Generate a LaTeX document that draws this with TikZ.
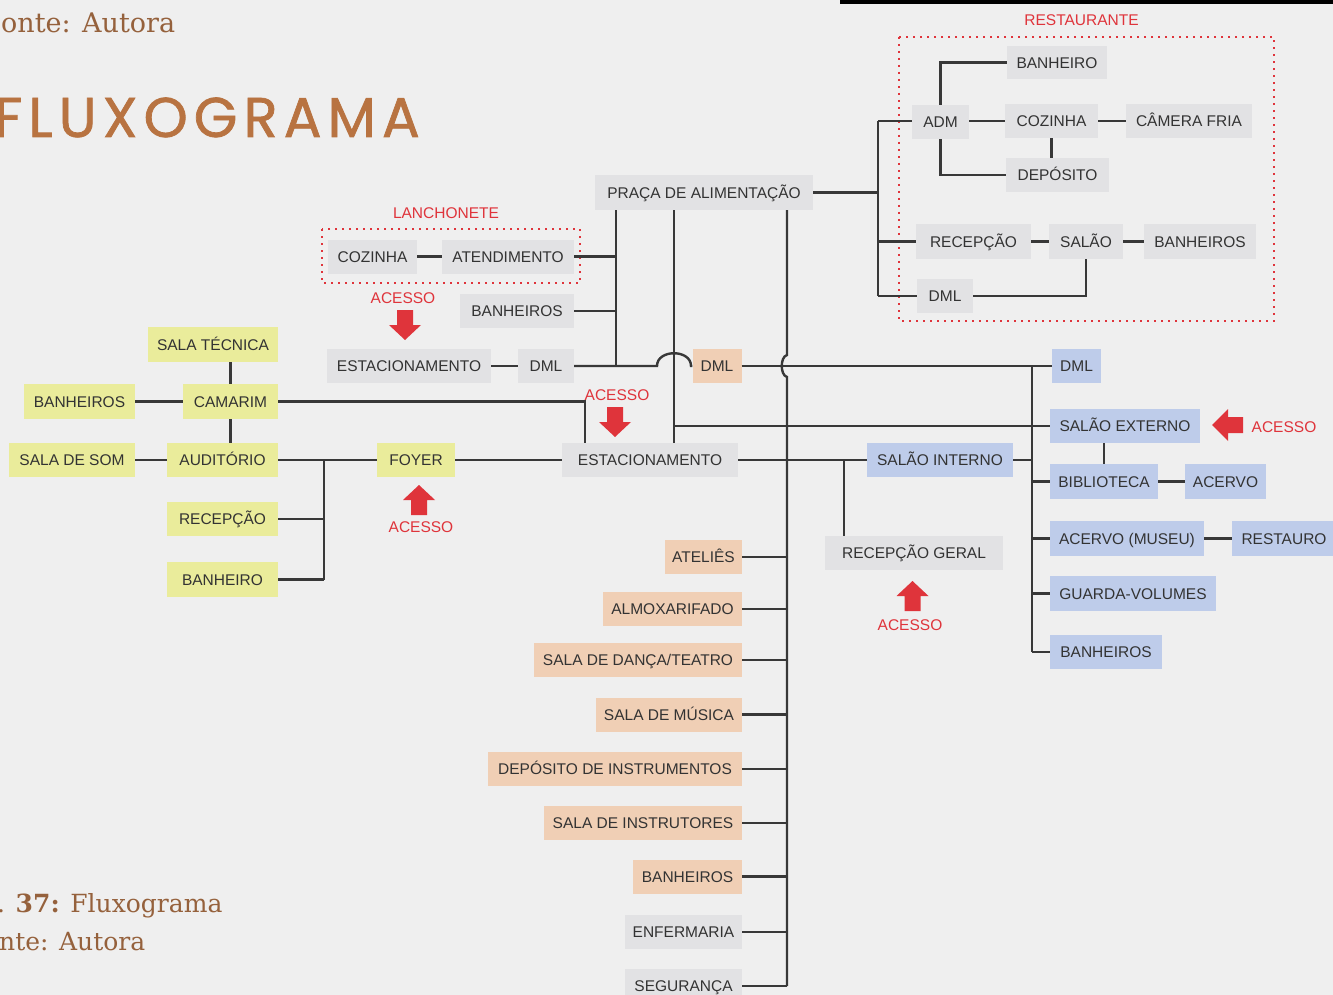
\documentclass[tikz,border=0pt]{standalone}
\usepackage{fontspec}
\setmainfont{Liberation Sans}
\newfontfamily\capfont{DejaVu Serif}
\newfontfamily\titlefont[LetterSpace=11, FakeBold=1.3]{Poppins}
\definecolor{bg}{HTML}{EFEFEF}
\definecolor{gfill}{HTML}{E2E2E4}
\definecolor{yfill}{HTML}{EAEC9B}
\definecolor{pfill}{HTML}{F0CFB5}
\definecolor{bfill}{HTML}{BECCEA}
\definecolor{txt}{HTML}{333333}
\definecolor{linec}{HTML}{383838}
\definecolor{accred}{HTML}{DF343B}
\definecolor{brown}{HTML}{B87341}
\definecolor{capbrown}{HTML}{95613C}
\tikzset{
  box/.style={rectangle, inner sep=0pt, minimum height=34, text=txt,
    font=\fontsize{15.5}{18}\selectfont, text height=11.2pt, text depth=0pt},
  gbox/.style={box, fill=gfill},
  ybox/.style={box, fill=yfill},
  pbox/.style={box, fill=pfill},
  bbox/.style={box, fill=bfill},
  conn/.style={draw=linec, line width=2.4pt},
  acclab/.style={inner sep=0pt, text=accred, font=\fontsize{15.5}{18}\selectfont, text height=11.2pt, text depth=0pt},
  zone/.style={draw=accred, line width=1.6pt, dash pattern=on 1.8pt off 5.2pt},
  accdown/.pic={\fill[accred] (-8,0) -- (8,0) -- (8,15) -- (16,15) -- (0,30) -- (-16,15) -- (-8,15) -- cycle;},
  accup/.pic={\fill[accred] (0,0) -- (16,15) -- (8,15) -- (8,30) -- (-8,30) -- (-8,15) -- (-16,15) -- cycle;},
  accleft/.pic={\fill[accred] (0,0) -- (16,-16) -- (16,-8) -- (31,-8) -- (31,8) -- (16,8) -- (16,16) -- cycle;}
}
\begin{document}
\begin{tikzpicture}[x=1pt,y=-1pt]
\fill[bg] (0,0) rectangle (1333,995);
\useasboundingbox (0,0) rectangle (1333,995);
\fill[black] (840,0) rectangle (1333,4);

% captions and title
\node[anchor=base west, inner sep=0pt, text=capbrown, font=\capfont\fontsize{27}{30}\selectfont] (capa) at (1,33) {onte: Autora};
\node[anchor=base east, inner sep=0pt, text=brown, font=\titlefont\fontsize{56}{60}\selectfont] (title) at (420,137) {FLUXOGRAMA};
\node[anchor=base west, inner sep=0pt, text=capbrown, font=\capfont\fontsize{25}{28}\selectfont] (capb) at (-3,912) {. \textbf{37:} Fluxograma};
\node[anchor=base west, inner sep=0pt, text=capbrown, font=\capfont\fontsize{25}{28}\selectfont] (capc) at (-1,950) {nte: Autora};

% zones
\draw[zone] (899,37) rectangle (1274,321);
\draw[zone] (322,229) rectangle (580,283);
\node[acclab] (labrest) at (1081.5,20) {RESTAURANTE};
\node[acclab] (lablanch) at (446,213) {LANCHONETE};

% grey boxes
\node[gbox, minimum width=218, minimum height=35] (praca) at (704,192.5) {PRAÇA DE ALIMENTAÇÃO};
\node[gbox, minimum width=89] (lcoz) at (372.5,256.5) {COZINHA};
\node[gbox, minimum width=132] (latend) at (508,256.5) {ATENDIMENTO};
\node[gbox, minimum width=114] (lban) at (517,311) {BANHEIROS};
\node[gbox, minimum width=164] (est1) at (409,366) {ESTACIONAMENTO};
\node[gbox, minimum width=56] (dml1) at (546,366) {DML};
\node[gbox, minimum width=176] (est2) at (650,460) {ESTACIONAMENTO};
\node[gbox, minimum width=178] (recg) at (914,553) {RECEPÇÃO GERAL};
\node[gbox, minimum width=117] (enf) at (683.5,932) {ENFERMARIA};
\node[gbox, minimum width=117] (seg) at (683.5,986) {SEGURANÇA};
% restaurant
\node[gbox, minimum width=100, minimum height=33] (rban) at (1057,62.5) {BANHEIRO};
\node[gbox, minimum width=57] (adm) at (940.5,122) {ADM};
\node[gbox, minimum width=93] (rcoz) at (1051.5,121) {COZINHA};
\node[gbox, minimum width=126] (camara) at (1189,121) {CÂMERA FRIA};
\node[gbox, minimum width=103] (rdep) at (1057.5,175) {DEPÓSITO};
\node[gbox, minimum width=115] (rrec) at (973.5,241.5) {RECEPÇÃO};
\node[gbox, minimum width=74] (rsal) at (1086,241.5) {SALÃO};
\node[gbox, minimum width=112] (rbans) at (1200,241.5) {BANHEIROS};
\node[gbox, minimum width=56] (rdml) at (945,296) {DML};

% peach boxes
\node[pbox, minimum width=49] (pdml) at (717,366) {DML};
\node[pbox, minimum width=77] (atel) at (703.5,557) {ATELIÊS};
\node[pbox, minimum width=139] (almox) at (672.5,609) {ALMOXARIFADO};
\node[pbox, minimum width=208] (danca) at (638,660) {SALA DE DANÇA/TEATRO};
\node[pbox, minimum width=146] (musica) at (669,714.5) {SALA DE MÚSICA};
\node[pbox, minimum width=254] (depi) at (615,769) {DEPÓSITO DE INSTRUMENTOS};
\node[pbox, minimum width=198] (instr) at (643,823) {SALA DE INSTRUTORES};
\node[pbox, minimum width=109] (pban) at (687.5,876.5) {BANHEIROS};

% yellow boxes
\node[ybox, minimum width=130, minimum height=35] (stec) at (213,344.5) {SALA TÉCNICA};
\node[ybox, minimum width=111, minimum height=35] (yban) at (79.5,401.5) {BANHEIROS};
\node[ybox, minimum width=95, minimum height=35] (cam) at (230.5,401.5) {CAMARIM};
\node[ybox, minimum width=126] (som) at (72,460) {SALA DE SOM};
\node[ybox, minimum width=111] (aud) at (222.5,460) {AUDITÓRIO};
\node[ybox, minimum width=111] (yrec) at (222.5,519) {RECEPÇÃO};
\node[ybox, minimum width=111, minimum height=35] (ybanh) at (222.5,579.5) {BANHEIRO};
\node[ybox, minimum width=78] (foyer) at (416,460) {FOYER};

% blue boxes
\node[bbox, minimum width=49] (bdml) at (1076.5,366) {DML};
\node[bbox, minimum width=150] (sext) at (1125,426) {SALÃO EXTERNO};
\node[bbox, minimum width=146] (sint) at (940,460) {SALÃO INTERNO};
\node[bbox, minimum width=108, minimum height=35] (bib) at (1104,481.5) {BIBLIOTECA};
\node[bbox, minimum width=81, minimum height=35] (acv) at (1225.5,481.5) {ACERVO};
\node[bbox, minimum width=154, minimum height=35] (acvm) at (1127,538.5) {ACERVO (MUSEU)};
\node[bbox, minimum width=104, minimum height=35] (rest) at (1284,538.5) {RESTAURO};
\node[bbox, minimum width=166, minimum height=35] (guarda) at (1133,593.5) {GUARDA-VOLUMES};
\node[bbox, minimum width=112] (bban) at (1106,652) {BANHEIROS};

% access labels and arrows
\node[acclab] (acc1) at (403,298) {ACESSO};
\pic at (405,310) {accdown};
\node[acclab] (acc2) at (617,395) {ACESSO};
\pic at (615,407) {accdown};
\node[acclab] (acc3) at (421,527) {ACESSO};
\pic at (419,485) {accup};
\node[acclab] (acc4) at (910,625) {ACESSO};
\pic at (912.5,581) {accup};
\node[acclab] (acc5) at (1284,427) {ACESSO};
\pic at (1212,425) {accleft};

% coordinates
\coordinate (rtop) at (878,121);
\coordinate (rbot) at (878,296);
\coordinate (lx) at (616,366);
\coordinate (mx) at (674,426);
\coordinate (rx) at (787,986);
\coordinate (hopa) at (787,355);
\coordinate (hopb) at (787,377);
\coordinate (hopl) at (657,366);
\coordinate (hopr) at (691,366);
\coordinate (yj) at (324,579.5);
\coordinate (cx) at (585,443);
\coordinate (gx) at (844,536);
\coordinate (bx) at (1032,652);

% restaurant connectors
\draw[conn] (praca.east) -- (praca.east -| rtop);
\draw[conn] (rtop) -- (rbot);
\draw[conn] (rtop) -- (rtop -| adm.west);
\draw[conn] (rtop |- rrec.west) -- (rrec.west);
\draw[conn] (rbot) -- (rdml.west);
\draw[conn] (adm.north) |- (rban.west);
\draw[conn] (adm.south) |- (rdep.west);
\draw[conn] (adm.east |- rcoz.west) -- (rcoz.west);
\draw[conn] (rcoz.east) -- (camara.west);
\draw[conn] (rcoz.south) -- (rcoz.south |- rdep.north);
\draw[conn] (rrec.east) -- (rsal.west);
\draw[conn] (rsal.east) -- (rbans.west);
\draw[conn] (rdml.east) -| (rsal.south);

% lanchonete connectors
\draw[conn] (lx |- praca.south) -- (lx);
\draw[conn] (lcoz.east) -- (latend.west);
\draw[conn] (latend.east) -- (latend.east -| lx);
\draw[conn] (lban.east) -- (lban.east -| lx);
\draw[conn] (est1.east) -- (dml1.west);
\draw[conn] (dml1.east) -- (hopl) .. controls (657,349) and (691,349) .. (hopr) -- (pdml.west);
\draw[conn] (mx |- praca.south) -- (mx |- est2.north);
\draw[conn] (mx) -- (sext.west);
\draw[conn] (rx |- praca.south) -- (hopa) .. controls (780,357) and (780,375) .. (hopb) -- (rx);
\draw[conn] (pdml.east) -- (bdml.west);

% service column
\foreach \n in {atel,almox,danca,musica,depi,instr,pban,enf,seg}
  \draw[conn] (\n.east) -- (\n.east -| rx);

% left (yellow) connectors
\draw[conn] (cam.north) -- (cam.north |- stec.south);
\draw[conn] (cam.south) -- (cam.south |- aud.north);
\draw[conn] (yban.east) -- (cam.west);
\draw[conn] (som.east) -- (aud.west);
\draw[conn] (aud.east) -- (foyer.west);
\draw[conn] (yj |- aud.east) -- (yj);
\draw[conn] (yrec.east) -- (yrec.east -| yj);
\draw[conn] (ybanh.east) -- (yj);
\draw[conn] (foyer.east) -- (est2.west);
\draw[conn] (cam.east) -| (cx);

% right (blue) connectors
\draw[conn] (est2.east) -- (sint.west);
\draw[conn] (gx |- est2.east) -- (gx);
\draw[conn] (bx |- bdml.west) -- (bx);
\draw[conn] (sint.east) -- (sint.east -| bx);
\foreach \n in {bib,acvm,guarda,bban}
  \draw[conn] (\n.west -| bx) -- (\n.west);
\draw[conn] (bib.north) -- (bib.north |- sext.south);
\draw[conn] (bib.east) -- (acv.west);
\draw[conn] (acvm.east) -- (rest.west);
\end{tikzpicture}
\end{document}
